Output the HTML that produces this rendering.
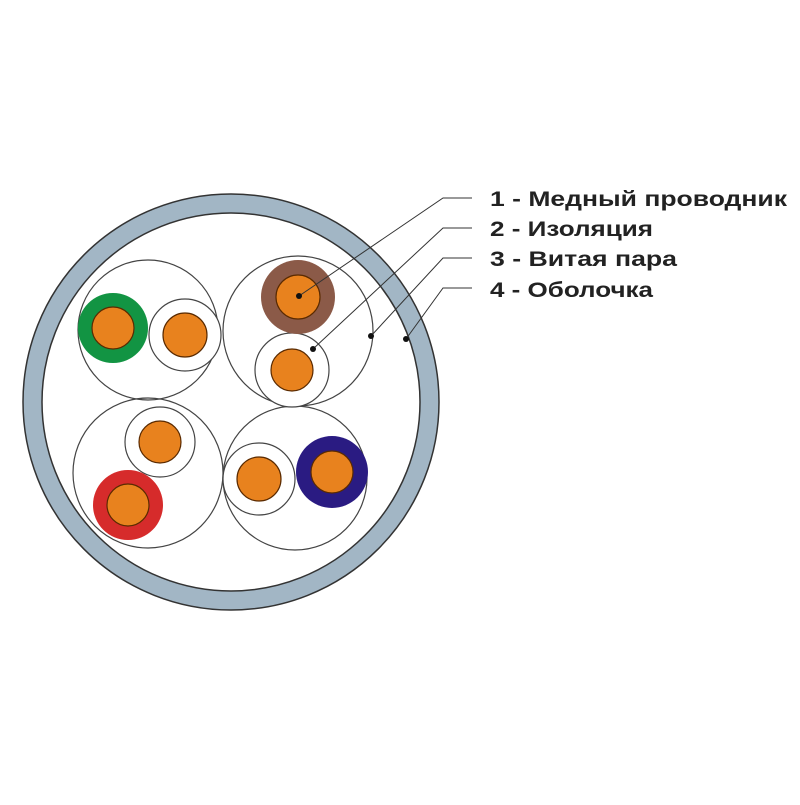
<!DOCTYPE html>
<html><head><meta charset="utf-8"><style>html,body{margin:0;padding:0;background:#fff}</style></head>
<body>
<svg width="800" height="800" viewBox="0 0 800 800" xmlns="http://www.w3.org/2000/svg">
<g stroke="#333" stroke-width="1.5">
<circle cx="231" cy="402" r="208" fill="#a2b6c5"/>
<circle cx="231" cy="402" r="189" fill="#fff"/>
</g>
<g fill="none" stroke="#444" stroke-width="1.2">
<circle cx="148" cy="330" r="70"/>
<circle cx="298" cy="331" r="75"/>
<circle cx="148" cy="473" r="75"/>
<circle cx="295" cy="478" r="72"/>
<circle cx="185" cy="335" r="36" fill="#fff"/>
<circle cx="292" cy="370" r="37" fill="#fff"/>
<circle cx="160" cy="442" r="35" fill="#fff"/>
<circle cx="259" cy="479" r="36" fill="#fff"/>
</g>
<g stroke="none">
<circle cx="113" cy="328" r="35" fill="#129443"/>
<circle cx="298" cy="297" r="37" fill="#8b5a48"/>
<circle cx="128" cy="505" r="35" fill="#d62b2b"/>
<circle cx="332" cy="472" r="36" fill="#2a1b82"/>
</g>
<g fill="#e8821e" stroke="#5a2a00" stroke-width="1.2">
<circle cx="113" cy="328" r="21"/>
<circle cx="185" cy="335" r="22"/>
<circle cx="298" cy="297" r="22"/>
<circle cx="292" cy="370" r="21"/>
<circle cx="160" cy="442" r="21"/>
<circle cx="128" cy="505" r="21"/>
<circle cx="259" cy="479" r="22"/>
<circle cx="332" cy="472" r="21"/>
</g>
<g fill="none" stroke="#333" stroke-width="1">
<polyline points="299,296 443,198 472,198"/>
<polyline points="313,349 443,228 472,228"/>
<polyline points="371,336 443,258 472,258"/>
<polyline points="406,339 443,288 472,288"/>
</g>
<g fill="#111">
<circle cx="299" cy="296" r="3"/>
<circle cx="313" cy="349" r="3"/>
<circle cx="371" cy="336" r="3"/>
<circle cx="406" cy="339" r="3"/>
</g>
<g font-family="Liberation Sans, sans-serif" font-weight="bold" font-size="21" fill="#222" lengthAdjust="spacingAndGlyphs">
<text x="490" y="206" textLength="297" lengthAdjust="spacingAndGlyphs">1 - Медный проводник</text>
<text x="490" y="236" textLength="163" lengthAdjust="spacingAndGlyphs">2 - Изоляция</text>
<text x="490" y="266" textLength="187" lengthAdjust="spacingAndGlyphs">3 - Витая пара</text>
<text x="490" y="297" textLength="163" lengthAdjust="spacingAndGlyphs">4 - Оболочка</text>
</g>
</svg>
</body></html>
